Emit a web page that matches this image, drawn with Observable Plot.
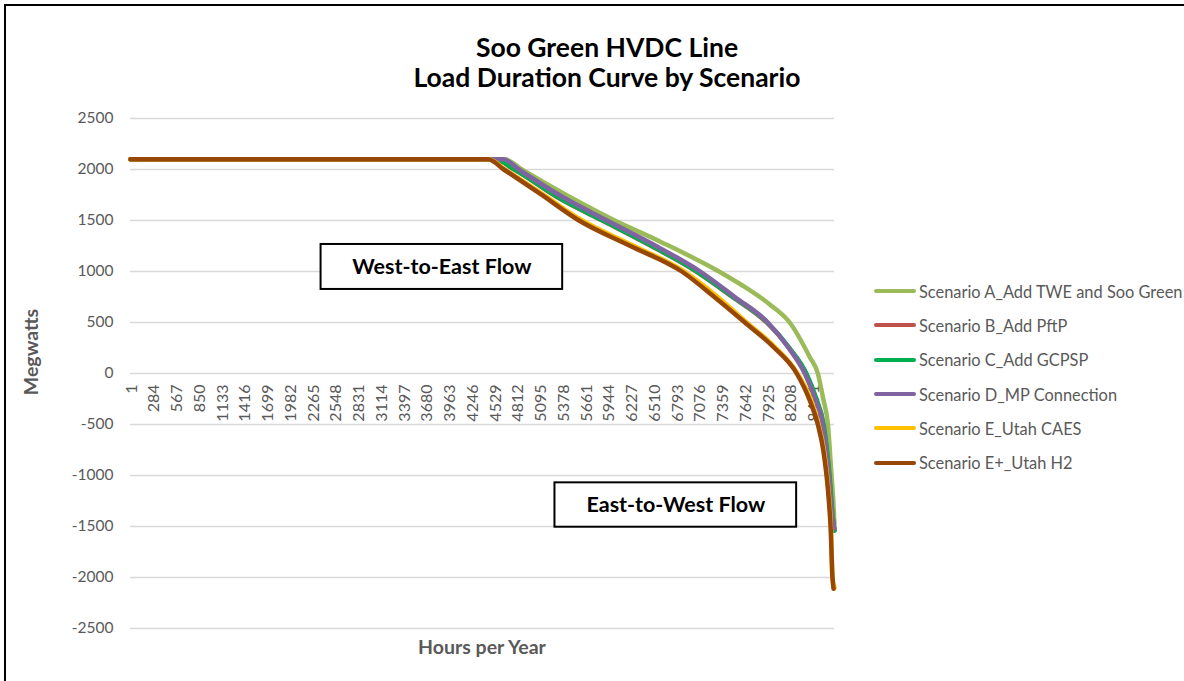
<!DOCTYPE html>
<html>
<head>
<meta charset="utf-8">
<script src="https://cdn.jsdelivr.net/npm/d3@7"></script>
<script src="https://cdn.jsdelivr.net/npm/@observablehq/plot@0.6"></script>
<style>
  html, body { margin: 0; padding: 0; background: #fff; overflow: hidden; width: 1184px; height: 681px; }
  #wrap { position: relative; width: 1184px; height: 681px; font-family: Lato, "Open Sans", sans-serif; overflow: hidden; }
  #ftop { position: absolute; left: 4px; top: 4px; width: 1300px; height: 2px; background: #000; }
  #fleft { position: absolute; left: 4px; top: 4px; width: 2px; height: 800px; background: #000; }
  #chart { position: absolute; left: 0; top: 0; }
  .title { position: absolute; left: 0; width: 1214px; text-align: center; font-weight: bold; font-size: 26.5px; color: #000; line-height: 30px; white-space: nowrap; }
  .axt { position: absolute; font-weight: bold; font-size: 19.5px; color: #595959; white-space: nowrap; line-height: 22px; }
  #legend { position: absolute; left: 874px; top: 274px; }
  .li { height: 34.3px; display: flex; align-items: center; white-space: nowrap; font-size: 16.4px; color: #595959; }
  .sw { width: 42px; height: 4px; border-radius: 2px; margin-right: 3px; flex: none; }
</style>
</head>
<body>
<div id="wrap">
  <div id="ftop"></div>
  <div id="fleft"></div>
  <div id="chart"></div>
  <div class="title" style="top:32px">Soo Green HVDC Line</div>
  <div class="title" style="top:62px">Load Duration Curve by Scenario</div>
  <div class="axt" id="ytitle">Megwatts</div>
  <div class="axt" id="xtitle">Hours per Year</div>
  <div id="legend"></div>
</div>
<script>
// ---- data (hour of year sorted by flow, MW) ----
const scenarioNames = [
  "Scenario A_Add TWE and Soo Green",
  "Scenario B_Add PftP",
  "Scenario C_Add GCPSP",
  "Scenario D_MP Connection",
  "Scenario E_Utah CAES",
  "Scenario E+_Utah H2"
];
const scenarioColors = ["#9BBB59", "#C0504D", "#00B050", "#8064A2", "#FFC000", "#974706"];

const scenarioA = [[1,2100],[4660,2100],[4870,2000],[5400,1760],[6000,1510],[6600,1290],[7300,1010],[7600,870],[7950,680],[8203,500],[8453,160],[8553,0],[8620,-250],[8678,-500],[8723,-1000],[8745,-1250],[8760,-1480]];
const scenarioB = [[1,2100],[4530,2100],[4775,2000],[5350,1710],[5870,1500],[6480,1250],[7040,1000],[7490,750],[7915,500],[8195,250],[8405,0],[8530,-250],[8620,-500],[8695,-1000],[8735,-1400],[8760,-1540]];
const scenarioC = [[1,2100],[4540,2100],[4780,2000],[5360,1710],[5880,1500],[6490,1250],[7050,1000],[7500,750],[7925,500],[8200,250],[8410,0],[8535,-250],[8625,-500],[8698,-1000],[8738,-1400],[8760,-1540]];
const scenarioD = [[1,2100],[4640,2100],[4832,2000],[5400,1720],[5930,1500],[6540,1250],[7090,1000],[7520,750],[7930,500],[8190,250],[8390,0],[8520,-250],[8615,-500],[8690,-1000],[8733,-1400],[8760,-1520]];
const scenarioE = [[1,2100],[4460,2100],[4660,2000],[5115,1765],[5600,1510],[6240,1260],[6880,1005],[7300,755],[7660,505],[8015,262],[8300,0],[8462,-250],[8562,-500],[8628,-750],[8668,-1000],[8696,-1250],[8716,-1500],[8734,-2000],[8760,-2100]];
const scenarioEplus = [[1,2100],[4450,2100],[4645,2000],[5100,1760],[5581,1500],[6220,1250],[6860,1000],[7280,740],[7645,500],[8000,260],[8290,0],[8450,-260],[8553,-500],[8620,-750],[8661,-1000],[8690,-1250],[8711,-1500],[8735,-2000],[8748,-2110]];
const seriesList = [scenarioA, scenarioB, scenarioC, scenarioD, scenarioE, scenarioEplus];

const xTickLabels = [1,284,567,850,1133,1416,1699,1982,2265,2548,2831,3114,3397,3680,3963,4246,4529,4812,5095,5378,5661,5944,6227,6510,6793,7076,7359,7642,7925,8208,8491];
const yTickLabels = [2500,2000,1500,1000,500,0,-500,-1000,-1500,-2000,-2500];

const annotationLabels = ["West-to-East Flow", "East-to-West Flow"];
const annotationHours = [[2372, 5378], [5282, 8289]];
const annotationMW = [[824, 1265], [-1507, -1072]];

// ---- build tables ----
const table = seriesList.map((s, i) => s.map(([hour, mw]) => ({scenario: scenarioNames[i], hour, mw})));
const annotations = annotationLabels.map((label, i) => ({
  label, x1: annotationHours[i][0], x2: annotationHours[i][1], y1: annotationMW[i][0], y2: annotationMW[i][1]
}));

const gray = "#595959";
const chart = Plot.plot({
  width: 1184,
  height: 681,
  marginLeft: 130,
  marginRight: 350,
  marginTop: 118,
  marginBottom: 53,
  x: {domain: [1, 8760], axis: null},
  y: {domain: [-2500, 2500], axis: null},
  color: {domain: scenarioNames, range: scenarioColors},
  style: {background: "transparent", fontFamily: "Lato, 'Open Sans', sans-serif", overflow: "visible"},
  marks: [
    Plot.ruleY(yTickLabels, {stroke: "#d9d9d9", strokeWidth: 1.5}),
    Plot.text(yTickLabels, {y: d => d, frameAnchor: "left", textAnchor: "end", dx: -17, text: d => String(d), fill: gray, fontSize: 15.5}),
    Plot.text(xTickLabels, {x: d => d, y: () => 0, text: d => String(d), rotate: -90, textAnchor: "end", dy: 11, dx: 1, fill: gray, fontSize: 16}),
    Plot.rect(annotations, {x1: "x1", x2: "x2", y1: "y1", y2: "y2", fill: "white", stroke: "black", strokeWidth: 2}),
    Plot.text(annotations, {x: d => (d.x1 + d.x2) / 2, y: d => (d.y1 + d.y2) / 2, text: "label", fill: "black", fontWeight: "bold", fontSize: 21.5}),
    ...table.map(t => Plot.line(t, {x: "hour", y: "mw", stroke: "scenario", strokeWidth: 4.5, curve: "monotone-x"}))
  ]
});
document.getElementById("chart").appendChild(chart);

// axis titles
const yt = document.getElementById("ytitle");
yt.style.left = "31px"; yt.style.top = "352px";
yt.style.transform = "translate(-50%,-50%) rotate(-90deg)";
const xt = document.getElementById("xtitle");
xt.style.left = "482px"; xt.style.top = "647px";
xt.style.transform = "translate(-50%,-50%)";

// legend
const lg = document.getElementById("legend");
scenarioNames.forEach((n, i) => {
  const row = document.createElement("div");
  row.className = "li";
  const sw = document.createElement("span");
  sw.className = "sw";
  sw.style.background = scenarioColors[i];
  const tx = document.createElement("span");
  tx.textContent = n;
  row.appendChild(sw); row.appendChild(tx);
  lg.appendChild(row);
});
</script>
</body>
</html>
